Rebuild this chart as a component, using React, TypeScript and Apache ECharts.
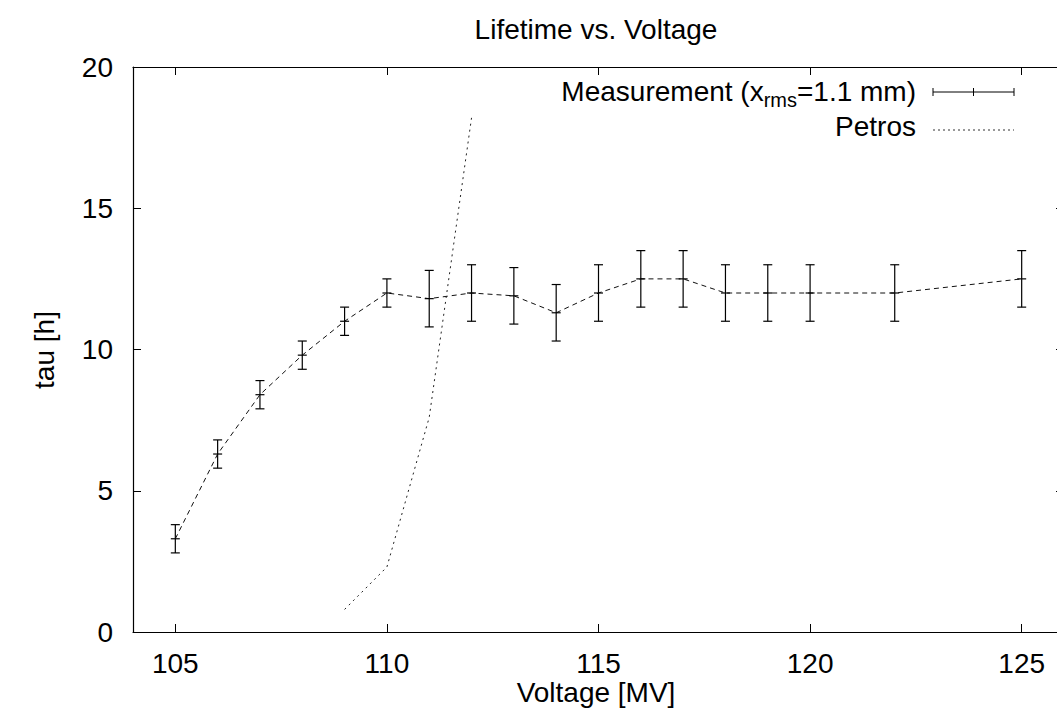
import React, { useEffect, useRef } from "react";
import * as echarts from "echarts";

const voltage = [105, 106, 107, 108, 109, 110, 111, 112, 113, 114, 115, 116, 117, 118, 119, 120, 122, 125];
const tau = [3.3, 6.3, 8.4, 9.8, 11.0, 12.0, 11.8, 12.0, 11.9, 11.3, 12.0, 12.5, 12.5, 12.0, 12.0, 12.0, 12.0, 12.5];
const tauErr = [0.5, 0.5, 0.5, 0.5, 0.5, 0.5, 1, 1, 1, 1, 1, 1, 1, 1, 1, 1, 1, 1];
const petrosVoltage = [109, 110, 111, 112];
const petrosTau = [0.8, 2.3, 7.6, 18.2];
const xTicks = [105, 110, 115, 120, 125];

const FONT = "'Liberation Sans', Arial, Helvetica, sans-serif";

function measure(text: string, size: number): number {
  const c = document.createElement("canvas").getContext("2d");
  if (!c) return text.length * size * 0.5;
  c.font = `${size}px 'Liberation Sans'`;
  return c.measureText(text).width;
}

export default function App() {
  const ref = useRef<HTMLDivElement>(null);
  useEffect(() => {
    if (!ref.current) return;
    const chart = echarts.init(ref.current, null, { renderer: "svg" });

    const measData = voltage.map((v, i) => [v, tau[i]]);
    const errData = voltage.map((v, i) => [v, tau[i], tau[i] - tauErr[i], tau[i] + tauErr[i]]);
    const petrosData = petrosVoltage.map((v, i) => [v, petrosTau[i]]);

    const fs = 28;
    const subFs = 20;
    const t1 = "Measurement (x";
    const t2 = "rms";
    const t3 = "=1.1 mm)";
    const w1 = measure(t1, fs);
    const w2 = measure(t2, subFs);
    const w3 = measure(t3, fs);
    const rightEdge = 916;
    const x0 = rightEdge - (w1 + w2 + w3);
    const row1 = 91;
    const row2 = 126;
    const black = "#000";

    const axisCommon = {
      type: "value" as const,
      splitLine: { show: false },
      axisLine: { show: true, onZero: false, lineStyle: { color: black, width: 1.2 } },
    };

    chart.setOption({
      animation: false,
      backgroundColor: "#fff",
      grid: { left: 133, top: 67, width: 931, height: 565, outerBoundsMode: "none", containLabel: false },
      xAxis: [
        {
          ...axisCommon,
          min: 104,
          max: 126,
          position: "bottom",
          axisTick: { show: true, inside: true, length: 8, customValues: xTicks, lineStyle: { color: black } },
          axisLabel: { show: true, customValues: xTicks, fontSize: fs, color: black, fontFamily: FONT, margin: 17 },
        },
        {
          ...axisCommon,
          min: 104,
          max: 126,
          position: "top",
          axisTick: { show: true, inside: true, length: 8, customValues: xTicks, lineStyle: { color: black } },
          axisLabel: { show: false },
        },
      ],
      yAxis: [
        {
          ...axisCommon,
          min: 0,
          max: 20,
          interval: 5,
          position: "left",
          axisTick: { show: true, inside: true, length: 8, lineStyle: { color: black } },
          axisLabel: { show: true, fontSize: fs, color: black, fontFamily: FONT, margin: 20 },
        },
        {
          ...axisCommon,
          min: 0,
          max: 20,
          interval: 5,
          position: "right",
          axisTick: { show: true, inside: true, length: 8, lineStyle: { color: black } },
          axisLabel: { show: false },
        },
      ],
      graphic: [
        {
          type: "text",
          x: 596,
          y: 29,
          style: { text: "Lifetime vs. Voltage", font: `${fs}px ${FONT}`, fill: black, align: "center", verticalAlign: "middle" },
        },
        {
          type: "text",
          x: 596,
          y: 692,
          style: { text: "Voltage [MV]", font: `${fs}px ${FONT}`, fill: black, align: "center", verticalAlign: "middle" },
        },
        {
          type: "text",
          x: 44,
          y: 350,
          rotation: Math.PI / 2,
          style: { text: "tau [h]", font: `${fs}px ${FONT}`, fill: black, align: "center", verticalAlign: "middle" },
        },
        {
          type: "text",
          x: x0,
          y: row1,
          style: { text: t1, font: `${fs}px ${FONT}`, fill: black, align: "left", verticalAlign: "middle" },
        },
        {
          type: "text",
          x: x0 + w1,
          y: row1 + 9,
          style: { text: t2, font: `${subFs}px ${FONT}`, fill: black, align: "left", verticalAlign: "middle" },
        },
        {
          type: "text",
          x: x0 + w1 + w2,
          y: row1,
          style: { text: t3, font: `${fs}px ${FONT}`, fill: black, align: "left", verticalAlign: "middle" },
        },
        { type: "line", shape: { x1: 933, y1: row1 + 1, x2: 1014, y2: row1 + 1 }, style: { stroke: black, lineWidth: 1 } },
        { type: "line", shape: { x1: 933, y1: row1 - 3, x2: 933, y2: row1 + 5 }, style: { stroke: black, lineWidth: 1 } },
        { type: "line", shape: { x1: 1014, y1: row1 - 3, x2: 1014, y2: row1 + 5 }, style: { stroke: black, lineWidth: 1 } },
        { type: "line", shape: { x1: 973.5, y1: row1 - 3, x2: 973.5, y2: row1 + 5 }, style: { stroke: black, lineWidth: 1 } },
        {
          type: "text",
          x: rightEdge,
          y: row2,
          style: { text: "Petros", font: `${fs}px ${FONT}`, fill: black, align: "right", verticalAlign: "middle" },
        },
        {
          type: "line",
          shape: { x1: 933, y1: row2 + 4, x2: 1014, y2: row2 + 4 },
          style: { stroke: "#333", lineWidth: 1, lineDash: [2, 3] },
        },
      ],
      series: [
        {
          name: "Measurement",
          type: "line",
          data: measData,
          symbol: "none",
          lineStyle: { color: "#111", width: 1, type: [5, 4] },
          xAxisIndex: 0,
          yAxisIndex: 0,
          z: 2,
        },
        {
          name: "MeasurementErr",
          type: "custom",
          data: errData,
          xAxisIndex: 0,
          yAxisIndex: 0,
          z: 3,
          renderItem: (params: any, api: any) => {
            const x = api.value(0);
            const c = api.coord([x, api.value(1)]);
            const lo = api.coord([x, api.value(2)]);
            const hi = api.coord([x, api.value(3)]);
            const hw = 4.5;
            const st = { stroke: black, lineWidth: 1.2 };
            return {
              type: "group",
              children: [
                { type: "line", shape: { x1: c[0], y1: lo[1], x2: c[0], y2: hi[1] }, style: st },
                { type: "line", shape: { x1: c[0] - hw, y1: lo[1], x2: c[0] + hw, y2: lo[1] }, style: st },
                { type: "line", shape: { x1: c[0] - hw, y1: hi[1], x2: c[0] + hw, y2: hi[1] }, style: st },
                { type: "line", shape: { x1: c[0] - hw, y1: c[1], x2: c[0] + hw, y2: c[1] }, style: st },
              ],
            };
          },
        },
        {
          name: "Petros",
          type: "line",
          data: petrosData,
          symbol: "none",
          lineStyle: { color: "#222", width: 1, type: [2, 4] },
          xAxisIndex: 0,
          yAxisIndex: 0,
          z: 2,
        },
      ],
    });
    return () => chart.dispose();
  }, []);
  return <div ref={ref} style={{ position: "fixed", left: 0, top: 0, width: 1057, height: 725 }} />;
}
